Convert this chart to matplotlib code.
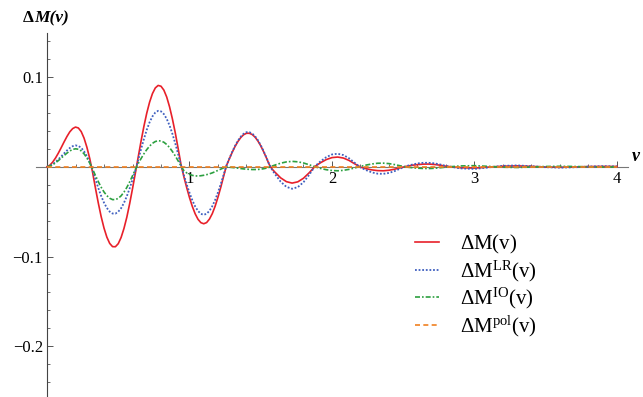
import numpy as np
import matplotlib
matplotlib.use('Agg')
import matplotlib.pyplot as plt
from matplotlib.ticker import FixedLocator, MultipleLocator

plt.rcParams['font.family'] = ['Liberation Serif', 'DejaVu Serif']
plt.rcParams['mathtext.fontset'] = 'custom'
plt.rcParams['mathtext.rm'] = 'Liberation Serif'
plt.rcParams['mathtext.it'] = 'Liberation Serif:italic'
plt.rcParams['mathtext.bf'] = 'Liberation Serif:bold'

# sample points along v: 0.02 steps to 1.58, 0.04 steps to 2.8, then 0.1 steps
v = np.concatenate([np.arange(80) * 0.02,
                    1.6 + np.arange(31) * 0.04,
                    [2.9, 3.0, 3.1, 3.2, 3.3, 3.4, 3.5, 3.6, 3.7, 3.8, 3.9, 4.0]])

# values
dM = [0, 0.0017, 0.0052, 0.0098, 0.0153, 0.0214, 0.0277, 0.0337, 0.0389, 0.0425,
      0.0442, 0.0432, 0.0392, 0.0319, 0.0217, 0.0091, -0.0063, -0.0238, -0.0404, -0.0555,
      -0.0683, -0.0784, -0.0854, -0.0890, -0.0891, -0.0857, -0.0788, -0.0688, -0.0563, -0.0412,
      -0.0245, -0.0071, 0.0108, 0.0285, 0.0450, 0.0597, 0.0720, 0.0815, 0.0878, 0.0906,
      0.0897, 0.0854, 0.0777, 0.0668, 0.0533, 0.0379, 0.0206, 0.0027, -0.0108, -0.0230,
      -0.0344, -0.0443, -0.0525, -0.0586, -0.0623, -0.0635, -0.0622, -0.0583, -0.0522, -0.0439,
      -0.0338, -0.0226, -0.0102, 0.0015, 0.0090, 0.0162, 0.0227, 0.0282, 0.0326, 0.0357,
      0.0373, 0.0373, 0.0359, 0.0330, 0.0287, 0.0233, 0.0168, 0.0098, 0.0023, -0.0026,
      # 1.60 .. 2.80
      -0.0061, -0.0124, -0.0166, -0.0182, -0.0168, -0.0128, -0.0067, 0.0003,
      0.0045, 0.0080, 0.0102, 0.0108, 0.0097, 0.0070, 0.0032,
      -0.0004, -0.0022, -0.0035, -0.0043, -0.0045, -0.0039, -0.0027, -0.0011,
      0.0004, 0.0016, 0.0024, 0.0029, 0.0030, 0.0025, 0.0017, 0.0006,
      # 2.9 .. 4.0
      -0.0011, -0.0015, -0.0004, 0.0006, 0.0010, 0.0004,
      -0.0003, -0.0006, -0.0003, 0.0002, 0.0004, 0.0003]

dM_LR = [0, 0.0009, 0.0028, 0.0053, 0.0083, 0.0115, 0.0149, 0.0181, 0.0209, 0.0229,
         0.0238, 0.0232, 0.0211, 0.0172, 0.0117, 0.0049, -0.0037, -0.0139, -0.0237, -0.0325,
         -0.0400, -0.0459, -0.0500, -0.0521, -0.0522, -0.0501, -0.0462, -0.0403, -0.0329, -0.0241,
         -0.0144, -0.0042, 0.0075, 0.0196, 0.0309, 0.0411, 0.0496, 0.0561, 0.0604, 0.0623,
         0.0617, 0.0587, 0.0534, 0.0460, 0.0367, 0.0261, 0.0142, 0.0019, -0.0091, -0.0194,
         -0.0290, -0.0374, -0.0443, -0.0493, -0.0525, -0.0535, -0.0524, -0.0491, -0.0439, -0.0370,
         -0.0285, -0.0190, -0.0086, 0.0016, 0.0093, 0.0167, 0.0234, 0.0291, 0.0336, 0.0368,
         0.0385, 0.0385, 0.0370, 0.0340, 0.0296, 0.0240, 0.0174, 0.0101, 0.0024, -0.0035,
         -0.0082, -0.0167, -0.0224, -0.0245, -0.0227, -0.0172, -0.0090, 0.0004,
         0.0061, 0.0107, 0.0137, 0.0145, 0.0130, 0.0094, 0.0043,
         -0.0008, -0.0038, -0.0063, -0.0077, -0.0079, -0.0069, -0.0048, -0.0020,
         0.0007, 0.0023, 0.0037, 0.0044, 0.0044, 0.0038, 0.0025, 0.0009,
         -0.0018, -0.0024, -0.0007, 0.0010, 0.0015, 0.0006,
         -0.0005, -0.0010, -0.0006, 0.0002, 0.0006, 0.0004]

dM_IO = [0, 0.0008, 0.0023, 0.0044, 0.0069, 0.0097, 0.0125, 0.0152, 0.0176, 0.0193,
         0.0200, 0.0195, 0.0177, 0.0144, 0.0098, 0.0041, -0.0026, -0.0098, -0.0166, -0.0228,
         -0.0281, -0.0322, -0.0351, -0.0366, -0.0366, -0.0352, -0.0324, -0.0283, -0.0231, -0.0169,
         -0.0101, -0.0029, 0.0035, 0.0091, 0.0144, 0.0191, 0.0230, 0.0261, 0.0281, 0.0290,
         0.0287, 0.0273, 0.0248, 0.0214, 0.0170, 0.0121, 0.0066, 0.0009, -0.0042, -0.0068,
         -0.0085, -0.0096, -0.0102, -0.0103, -0.0100, -0.0095, -0.0088, -0.0079, -0.0068, -0.0055,
         -0.0040, -0.0026, -0.0012, -0.0003, -0.0005, -0.0008, -0.0012, -0.0016, -0.0020, -0.0024,
         -0.0027, -0.0029, -0.0031, -0.0031, -0.0030, -0.0027, -0.0022, -0.0015, -0.0006, 0.0008,
         0.0019, 0.0040, 0.0054, 0.0060, 0.0055, 0.0042, 0.0022, 0.0000,
         -0.0019, -0.0033, -0.0042, -0.0045, -0.0040, -0.0029, -0.0013,
         0.0004, 0.0019, 0.0031, 0.0039, 0.0040, 0.0035, 0.0024, 0.0010,
         -0.0003, -0.0010, -0.0016, -0.0019, -0.0020, -0.0017, -0.0011, -0.0004,
         0.0009, 0.0012, 0.0004, -0.0005, -0.0008, -0.0003,
         0.0003, 0.0005, 0.0003, -0.0001, -0.0003, -0.0002]

v_pol = [0.0, 4.0]
dM_pol = [0.0, 0.0]

labels = [r'$\mathrm{\Delta M(v)}$', r'$\mathrm{\Delta M^{LR}(v)}$',
          r'$\mathrm{\Delta M^{IO}(v)}$', r'$\mathrm{\Delta M^{pol}(v)}$']

fig = plt.figure(figsize=(6.43, 3.97), dpi=100)
ax = fig.add_axes([35.6 / 643, 0, 592.8 / 643, 364 / 397])

ax.plot(v, dM, color='#e8202a', lw=1.2, label=labels[0], zorder=3)
ax.plot(v, dM_LR, color='#3f5fbf', lw=1.3, ls=(0, (1, 1)), label=labels[1], zorder=4)
ax.plot(v, dM_IO, color='#2ca040', lw=1.2, ls=(0, (3, 1.2, 1, 1.2)), label=labels[2], zorder=5)
ax.plot(v_pol, dM_pol, color='#f08020', lw=1.2, ls=(0, (3, 2)), label=labels[3], zorder=6)

ax.set_xlim(-0.08, 4.08)
ax.set_ylim(-0.2565, 0.149)

for s in ['top', 'right']:
    ax.spines[s].set_visible(False)
ax.spines['left'].set_position(('data', 0))
ax.spines['bottom'].set_position(('data', 0))
ax.spines['left'].set_color('#444444')
ax.spines['bottom'].set_color('#777777')
ax.spines['left'].set_linewidth(0.8)
ax.spines['bottom'].set_linewidth(0.8)

ax.xaxis.set_major_locator(FixedLocator([1, 2, 3, 4]))
ax.xaxis.set_minor_locator(MultipleLocator(0.2))
ax.set_xticklabels(['1', '2', '3', '4'])
ax.yaxis.set_major_locator(FixedLocator([-0.2, -0.1, 0.1]))
ax.yaxis.set_minor_locator(MultipleLocator(0.02))
ax.set_yticklabels(['\u22120.2', '\u22120.1', '0.1'])

ax.tick_params(which='both', direction='in', colors='#555555', labelcolor='black', labelsize=12)
ax.tick_params(which='major', length=4, width=0.7)
ax.tick_params(which='minor', length=2.2, width=0.6)
ax.tick_params(axis='y', pad=3)
ax.tick_params(axis='x', pad=3)

# axis labels
fig.text(23 / 643, 1 - 18 / 397, '\u0394', fontsize=12.5, fontweight='bold', ha='left', va='center')
fig.text(34 / 643, 1 - 18 / 397, 'M(v)', fontsize=12.5, fontweight='bold', style='italic',
         ha='left', va='center')
fig.text(632 / 643, 1 - 157 / 397, 'v', fontsize=13, fontweight='bold', style='italic',
         ha='left', va='center')

ax.legend(loc='upper left', bbox_to_anchor=(415 / 643, 1 - 233 / 397),
          bbox_transform=fig.transFigure, frameon=False, fontsize=15,
          handlelength=1.15, handletextpad=1.0, labelspacing=0.12,
          borderpad=0, borderaxespad=0)

fig.savefig('out.png', dpi=100)
